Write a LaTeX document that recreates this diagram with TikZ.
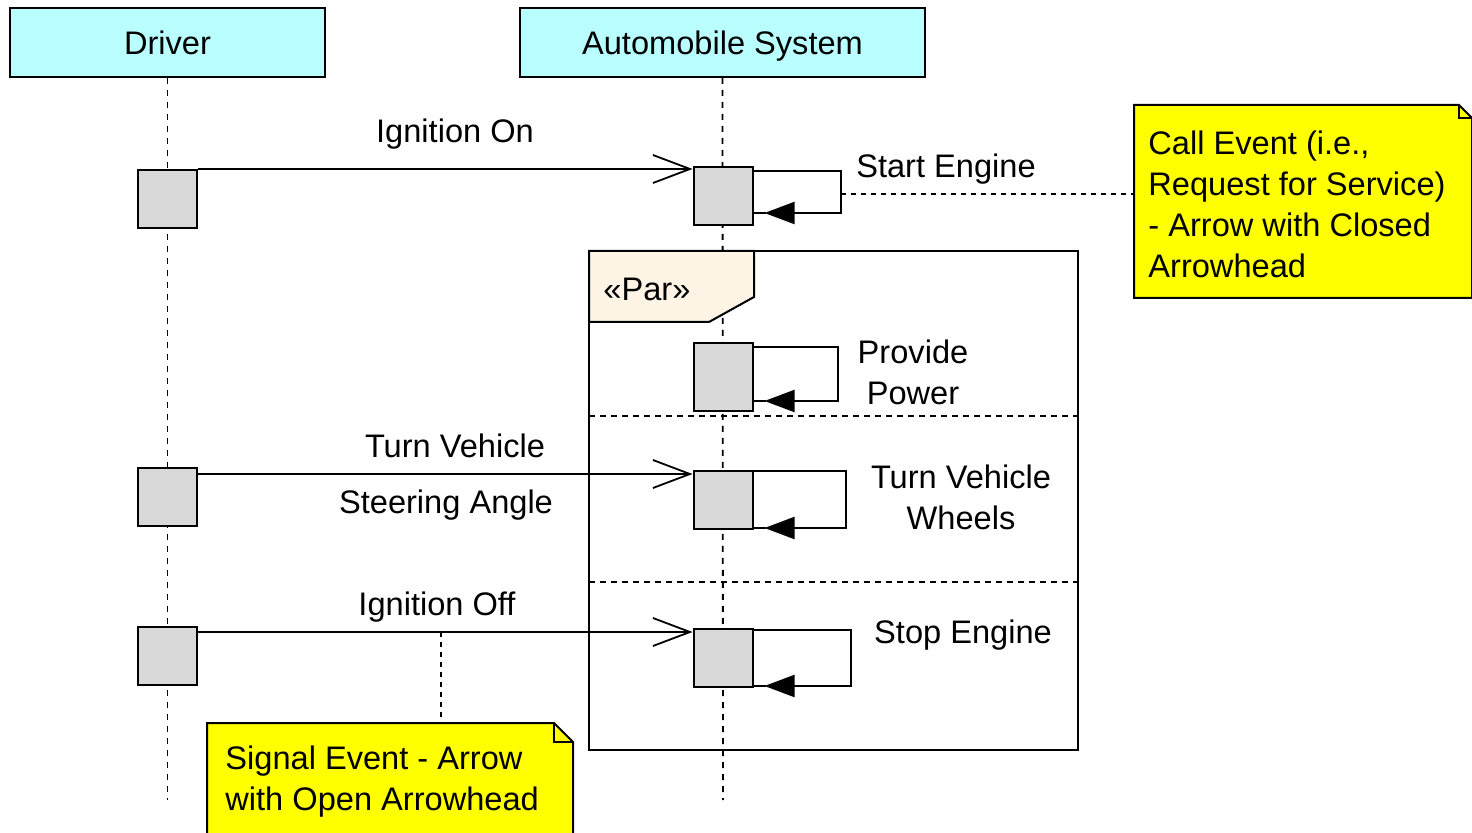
\documentclass[tikz,border=0pt]{standalone}
\usepackage{fontspec}
\setmainfont{Liberation Sans}
\usetikzlibrary{arrows.meta,calc}
\definecolor{headfill}{RGB}{185,255,255}
\definecolor{actfill}{RGB}{217,217,217}
\definecolor{notefill}{RGB}{255,255,0}
\definecolor{parfill}{RGB}{253,244,230}
\begin{document}
\begin{tikzpicture}[x=0.5pt,y=-0.5pt,
  font=\fontsize{16.3pt}{20.5pt}\selectfont,
  head/.style={draw,line width=1pt,fill=headfill,minimum height=34.5pt,inner sep=0pt,text height=13.7pt,text depth=1.4pt},
  act/.style={draw,line width=1pt,fill=actfill,minimum width=29.5pt,minimum height=29pt,inner sep=0pt},
  life/.style={line width=0.9pt,dash pattern=on 3pt off 3pt},
  sep/.style={line width=0.9pt,dash pattern=on 3pt off 2.5pt},
  msg/.style={line width=1pt,-{Straight Barb[length=18.5pt,width=14pt,line width=0.9pt]}},
  selfmsg/.style={line width=1pt,-{Triangle[length=15pt,width=11pt]}},
  link/.style={line width=0.9pt,dash pattern=on 2.5pt off 2.5pt},
  lbl/.style={inner sep=0pt,align=center},
  notetext/.style={inner sep=0pt,align=left,anchor=west}
]
\clip (0,0) rectangle (1472,833);
\fill[white] (0,0) rectangle (1472,833);

% lifeline heads
\node[head,minimum width=157.5pt] (driver) at (167.5,42.5) {Driver};
\node[head,minimum width=202.5pt] (auto) at (722.5,42.5) {Automobile System};

% lifeline ends
\coordinate (dend) at (167.5,800);
\coordinate (aend) at (723,800);
\draw[life] (driver.south) -- (dend);
\draw[life] (auto.south) -- (aend);

% par fragment frame
\coordinate (parNW) at (589,251);
\coordinate (parSE) at (1078,750);
\draw[line width=1pt] (parNW) rectangle (parSE);
\filldraw[line width=1pt,fill=parfill] (589,251) -- (754,251) -- (754,297) -- (709,322) -- (589,322) -- cycle;
\node[lbl,anchor=west] (parlbl) at (603,289) {«Par»};
\draw[sep] (589,416) -- (1078,416);
\draw[sep] (589,582) -- (1078,582);

% activations
\node[act] (d1) at (167.5,199) {};
\node[act] (d2) at (167.5,497) {};
\node[act] (d3) at (167.5,656) {};
\node[act] (a1) at (723,196) {};
\node[act,minimum height=34pt] (a2) at (723,377) {};
\node[act] (a3) at (723,500) {};
\node[act] (a4) at (723,658) {};

% messages
\draw[msg] (d1.north east) -- (d1.north east -| a1.west);
\node[lbl] (m1) at (455,134) {Ignition On};

\draw[msg] ($(d2.north east)+(0,7)$) coordinate (m2s) -- (m2s -| a3.west);
\node[lbl] (m2a) at (455,446) {Turn Vehicle};
\node[lbl] (m2b) at (446,505) {Steering Angle};

\draw[msg] ($(d3.north east)+(0,6)$) coordinate (m3s) -- (m3s -| a4.west);
\node[lbl] (m3) at (437,607) {Ignition Off};

% self messages
\draw[selfmsg] ($(a1.north east)+(0,5)$) -| (841,213) -- ($(a1.east |- 0,213)+(11,0)$);
\draw[line width=1pt] (a1.east |- 0,213) -- +(12,0);
\node[lbl] (s1) at (946,169) {Start Engine};

\draw[selfmsg] ($(a2.north east)+(0,5)$) -| (838,401) -- ($(a2.east |- 0,401)+(11,0)$);
\draw[line width=1pt] (a2.east |- 0,401) -- +(12,0);
\node[lbl] (s2) at (913,372) {Provide\\Power};

\draw[selfmsg] ($(a3.north east)+(0,1)$) -| (846,528) -- ($(a3.east |- 0,528)+(11,0)$);
\draw[line width=1pt] (a3.east |- 0,528) -- +(12,0);
\node[lbl] (s3) at (961,497) {Turn Vehicle\\Wheels};

\draw[selfmsg] ($(a4.north east)+(0,2)$) -| (851,686) -- ($(a4.east |- 0,686)+(11,0)$);
\draw[line width=1pt] (a4.east |- 0,686) -- +(12,0);
\node[lbl] (s4) at (963,635) {Stop Engine};

% notes
\coordinate (cnW) at (1134,194);
\filldraw[line width=1pt,fill=notefill] (1134,105) -- (1459,105) -- (1472,118) -- (1472,298) -- (1134,298) -- cycle;
\draw[line width=1pt] (1459,105) -- (1459,118) -- (1472,118);
\node[notetext] (callnote) at (1148,204) {Call Event (i.e.,\\Request for Service)\\- Arrow with Closed\\Arrowhead};
\draw[link] (841,194) -- (cnW);

\coordinate (snN) at (441,723);
\filldraw[line width=1pt,fill=notefill] (207,723) -- (554,723) -- (573,742) -- (573,840) -- (207,840) -- cycle;
\draw[line width=1pt] (554,723) -- (554,742) -- (573,742);
\node[notetext] (signote) at (225,782) {Signal Event - Arrow\\with Open Arrowhead};
\draw[link] (m3s -| snN) -- (snN);
\end{tikzpicture}
\end{document}
